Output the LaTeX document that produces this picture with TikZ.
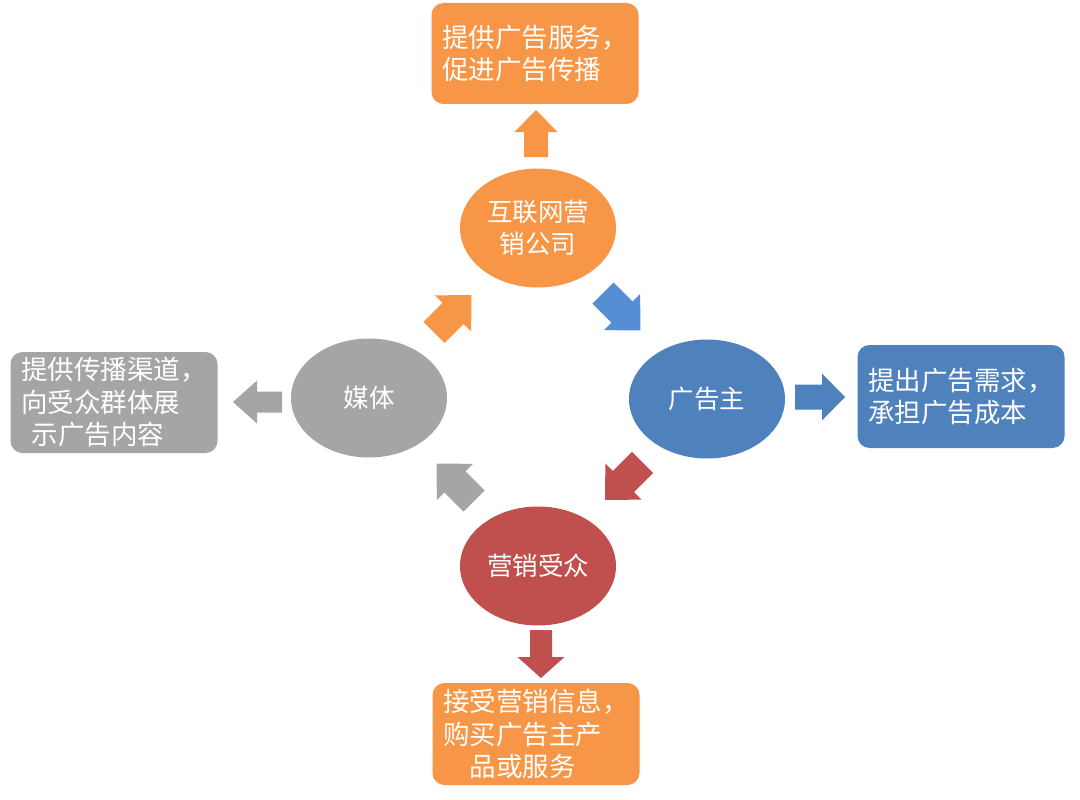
\documentclass[tikz,border=0pt]{standalone}
\usepackage{fontspec}
\setmainfont{Noto Sans CJK SC}
\usetikzlibrary{shapes.geometric}
\definecolor{oorange}{RGB}{247,150,70}
\definecolor{oblue}{RGB}{79,129,189}
\definecolor{lblue}{RGB}{85,142,213}
\definecolor{ored}{RGB}{192,80,77}
\definecolor{ogray}{RGB}{165,165,165}
\tikzset{
  pics/barrow/.style args={#1/#2/#3/#4}{code={
    \fill[pic actions] (0,-#2/2) -- (#1-#4,-#2/2) -- (#1-#4,-#3/2) -- (#1,0)
      -- (#1-#4,#3/2) -- (#1-#4,#2/2) -- (0,#2/2) -- cycle;
  }},
  ell/.style={ellipse, minimum width=156, minimum height=119, inner sep=0pt,
    text=white, align=center, font=\fontsize{25.5}{32}\selectfont},
  infobox/.style={rectangle, rounded corners=12, minimum width=207, minimum height=101,
    inner sep=0pt, text=white, align=left, font=\fontsize{26.5}{32.5}\selectfont},
}
\begin{document}
\begin{tikzpicture}[x=1pt,y=-1pt]
\useasboundingbox[fill=white] (0,0) rectangle (1080,800);
% ellipses
\node[ell, fill=oorange] (net) at (538,228) {互联网营\\销公司};
\node[ell, fill=oblue] (adv) at (707,399) {广告主};
\node[ell, fill=ogray] (media) at (369,398) {媒体};
\node[ell, fill=ored] (aud) at (538,566) {营销受众};
% boxes
\node[infobox, fill=oorange] (topbox) at (535,53.5) {提供广告服务，\\促进广告传播};
\node[infobox, fill=oblue, minimum height=103] (rightbox) at (961,396.5) {提出广告需求，\\承担广告成本};
\node[infobox, fill=ogray] (leftbox) at (114,402.5) {提供传播渠道，\\向受众群体展\\\hspace{0.4em}示广告内容};
\node[infobox, fill=oorange, minimum height=102] (botbox) at (536,734) {接受营销信息，\\购买广告主产\\\hspace{1em}品或服务};
% straight block arrows
\pic[rotate=90, fill=oorange] at (536,157) {barrow=47/24/43/22};
\pic[rotate=0, fill=oblue] at (795,397) {barrow=50/25/47/23};
\pic[rotate=-90, fill=ored] at (541,630) {barrow=48/22/47/21};
\pic[rotate=180, fill=ogray] at (282,402) {barrow=49/21/43/24};
% diagonal block arrows
\pic[rotate=45, fill=oorange] at (434,332.5) {barrow=53/30/51/26};
\pic[rotate=-45, fill=lblue] at (603,293) {barrow=53/30/51/26};
\pic[rotate=-135, fill=ored] at (642.5,462.5) {barrow=53/30/51/26};
\pic[rotate=135, fill=ogray] at (474,501) {barrow=53/30/51/26};
\end{tikzpicture}
\end{document}
